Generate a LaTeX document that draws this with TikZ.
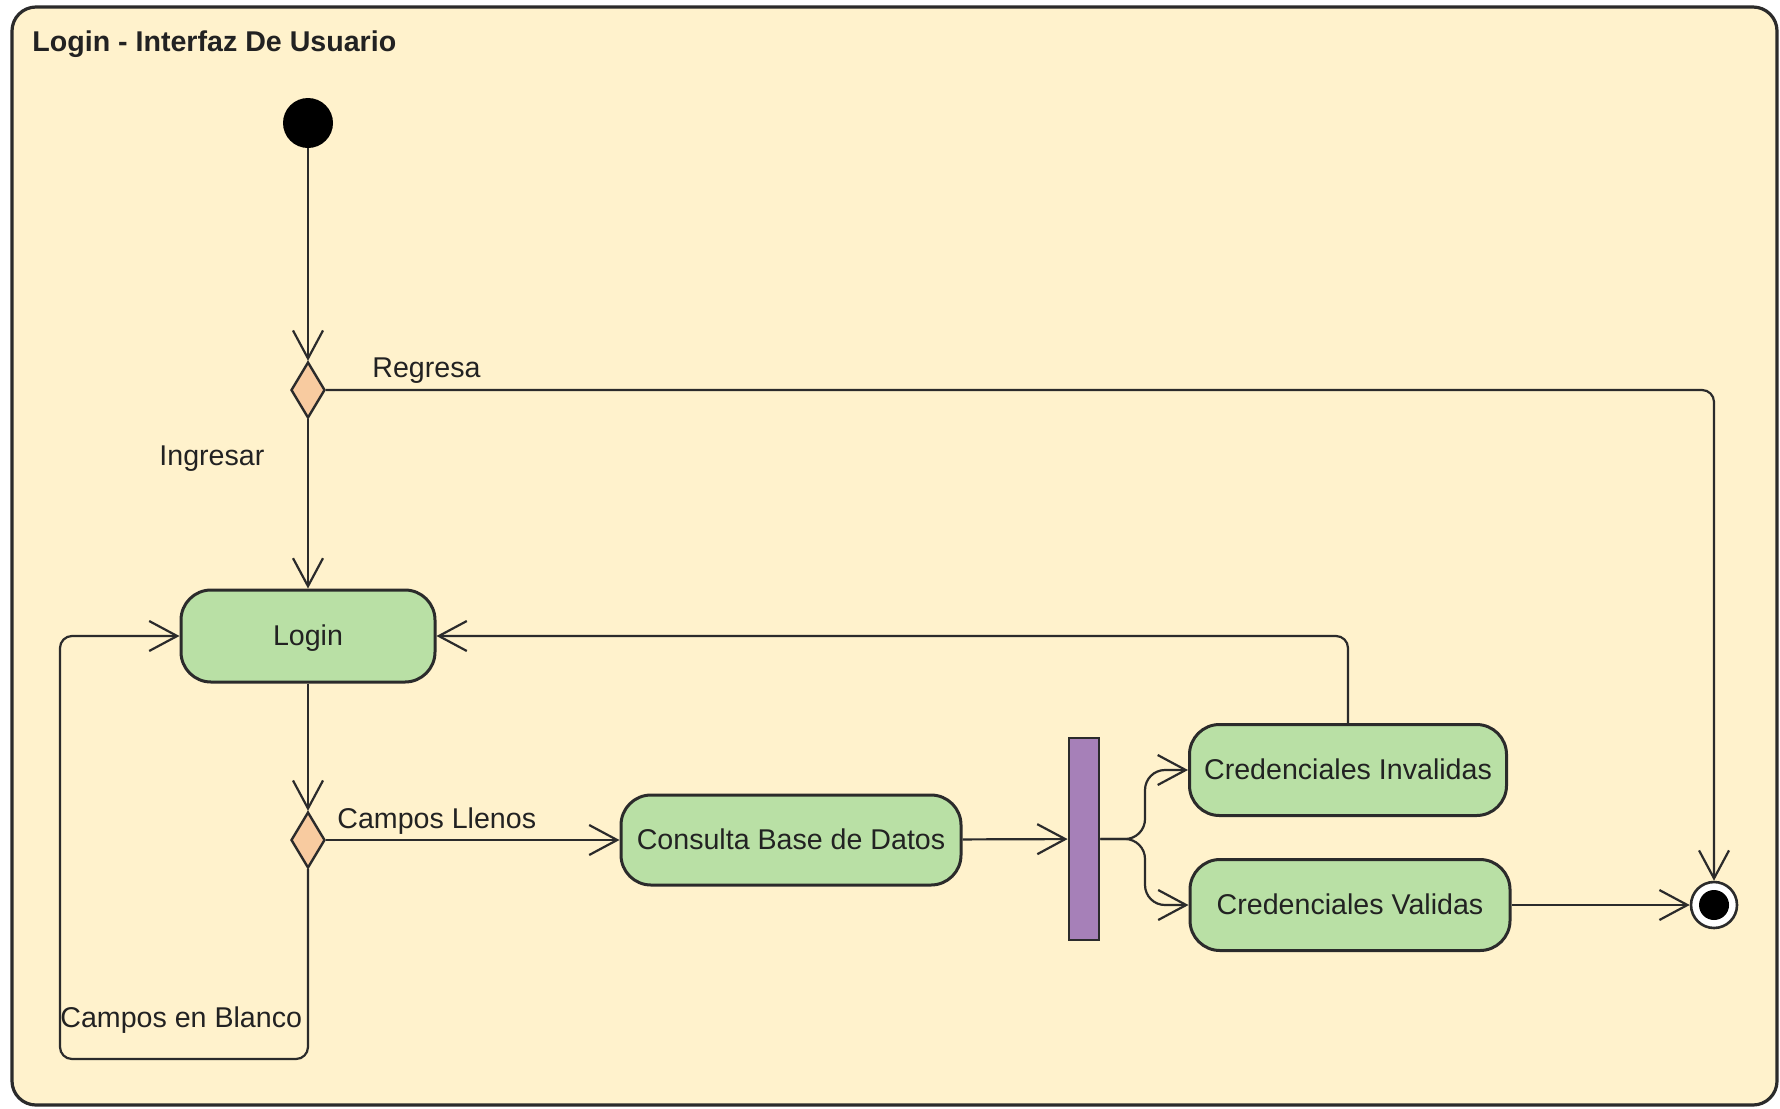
\documentclass[tikz,border=0pt]{standalone}
\usepackage{fontspec}
\setmainfont{Liberation Sans}
\usetikzlibrary{arrows.meta,shapes.geometric}
\definecolor{bg}{HTML}{FFF2CC}
\definecolor{act}{HTML}{B9E0A5}
\definecolor{dec}{HTML}{F8CBA0}
\definecolor{forkc}{HTML}{A680B8}
\definecolor{ln}{HTML}{2B2B2B}
\definecolor{txt}{HTML}{222222}
\begin{document}
\begin{tikzpicture}[x=0.5pt,y=-0.5pt,
  font=\fontsize{14.3}{17}\selectfont,
  activity/.style={draw=ln, line width=1.5pt, fill=act, rounded corners=15pt, inner sep=0pt, text=txt, text depth=0.1em},
  decision/.style={diamond, draw=ln, line width=1.2pt, fill=dec, minimum width=17pt, minimum height=28pt, inner sep=0pt},
  flow/.style={draw=ln, line width=1.1pt, -{Straight Barb[length=14pt,width=15pt]}},
  lbl/.style={text=txt, inner sep=0pt, anchor=west},
]
\useasboundingbox (0,0) rectangle (1780,1108);
\fill[white] (0,0) rectangle (1780,1108);
\draw[ln, line width=1.6pt, fill=bg, rounded corners=12pt] (12,7) rectangle (1777,1105);

\node[lbl, font=\fontsize{14.3}{17}\selectfont\bfseries] (title) at (32,44) {Login - Interfaz De Usuario};

\node[circle, fill=black, minimum size=25pt, inner sep=0pt] (start) at (308,123) {};
\node[decision] (d1) at (308,390) {};
\node[activity, minimum width=127pt, minimum height=46pt] (login) at (308,636) {Login};
\node[decision] (d2) at (308,840) {};
\node[activity, minimum width=170pt, minimum height=45pt] (cons) at (791,840) {Consulta Base de Datos};
\node[draw=ln, line width=1.4pt, fill=forkc, minimum width=15pt, minimum height=101pt, inner sep=0pt] (fork) at (1084,839) {};
\node[activity, minimum width=158.5pt, minimum height=45.5pt] (inv) at (1348,770) {Credenciales Invalidas};
\node[activity, minimum width=160pt, minimum height=45.5pt] (val) at (1350,905) {Credenciales Validas};
\node[circle, draw=ln, line width=1.3pt, fill=white, minimum size=23pt, inner sep=0pt] (end) at (1714,905) {};
\node[circle, fill=black, minimum size=15pt, inner sep=0pt] (endin) at (end.center) {};

\coordinate (fk) at (1145,839);
\coordinate (lp) at (60,1059);

\draw[flow] (start) -- (d1);
\draw[flow, rounded corners=6pt] (d1.east) -| (end.north);
\draw[flow] (d1) -- (login);
\draw[flow] (login) -- (d2);
\draw[flow] (d2.east) -- (cons.west);
\draw[flow] (cons) -- (fork);
\draw[flow, rounded corners=10pt] (fork.east) -- (fk) |- (inv.west);
\draw[flow, rounded corners=10pt] (fork.east) -- (fk) |- (val.west);
\draw[flow] (val) -- (end);
\draw[flow, rounded corners=6pt] (inv.north) |- (login.east);
\draw[flow, rounded corners=6pt] (d2.south) |- (lp) |- (login.west);

\node[lbl] (tregresa) at (372,371) {Regresa};
\node[lbl] (tingresar) at (159,459) {Ingresar};
\node[lbl] (tllenos) at (337,821) {Campos Llenos};
\node[lbl] (tblanco) at (60,1020) {Campos en Blanco};
\end{tikzpicture}
\end{document}
